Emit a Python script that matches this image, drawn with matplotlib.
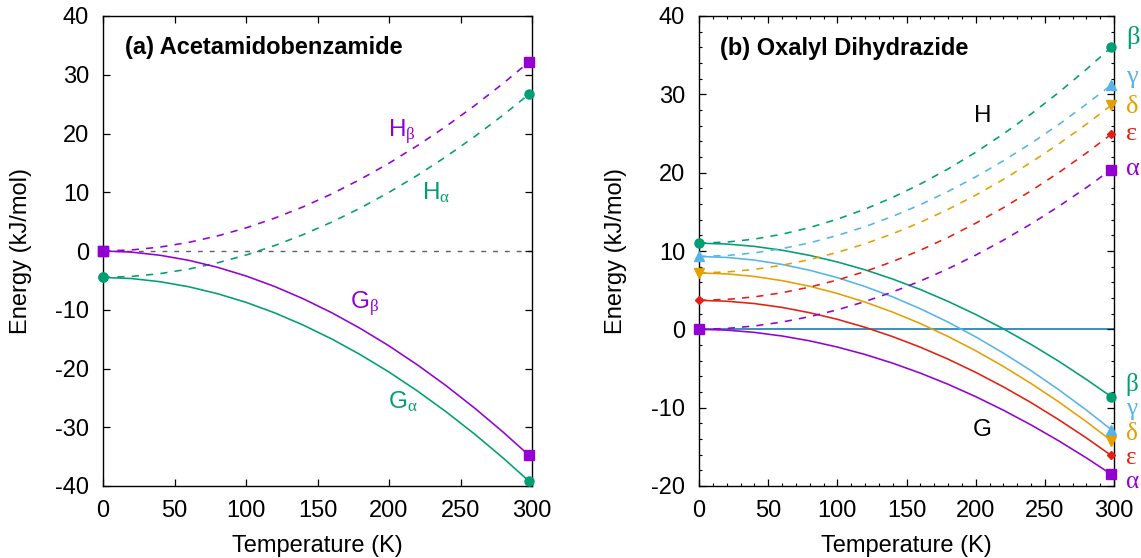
import matplotlib
matplotlib.use('Agg')
import matplotlib.pyplot as plt
from matplotlib.ticker import MultipleLocator

plt.rcParams['font.family'] = ['Liberation Sans', 'DejaVu Sans']
plt.rcParams['mathtext.fontset'] = 'custom'
plt.rcParams['mathtext.rm'] = 'Liberation Serif'
plt.rcParams['mathtext.it'] = 'Liberation Serif:italic'
plt.rcParams['mathtext.bf'] = 'Liberation Serif:bold'
plt.rcParams['axes.unicode_minus'] = False

# ---------------- data ----------------
temps = [0, 20, 40, 60, 80, 100, 120, 140, 160, 180, 200, 220, 240, 260, 280, 298]

# (a) Acetamidobenzamide
a_H_beta = [0.0, 0.18, 0.67, 1.47, 2.56, 3.93, 5.59, 7.52, 9.72, 12.20, 14.94, 17.96, 21.23, 24.77, 28.56, 32.2]
a_G_beta = [0.0, -0.19, -0.73, -1.59, -2.77, -4.25, -6.04, -8.13, -10.51, -13.19, -16.15, -19.41, -22.94, -26.76, -30.87, -34.8]
a_H_alpha = [-4.5, -4.33, -3.85, -3.07, -2.02, -0.69, 0.92, 2.79, 4.92, 7.32, 9.98, 12.90, 16.07, 19.50, 23.17, 26.7]
a_G_alpha = [-4.5, -4.69, -5.23, -6.09, -7.26, -8.74, -10.52, -12.61, -14.98, -17.65, -20.60, -23.85, -27.38, -31.19, -35.28, -39.2]

# (b) Oxalyl Dihydrazide
b_forms = ['β', 'γ', 'δ', 'ε', 'α']
b_H = {
    'β': [11.0, 11.14, 11.52, 12.14, 12.99, 14.06, 15.34, 16.84, 18.55, 20.47, 22.60, 24.94, 27.48, 30.23, 33.18, 36.0],
    'γ': [9.3, 9.42, 9.76, 10.30, 11.04, 11.98, 13.10, 14.42, 15.91, 17.60, 19.46, 21.51, 23.74, 26.14, 28.73, 31.2],
    'δ': [7.2, 7.32, 7.65, 8.18, 8.90, 9.82, 10.92, 12.20, 13.66, 15.31, 17.13, 19.13, 21.31, 23.66, 26.18, 28.6],
    'ε': [3.7, 3.82, 4.14, 4.67, 5.39, 6.29, 7.38, 8.65, 10.10, 11.73, 13.54, 15.52, 17.68, 20.00, 22.50, 24.9],
    'α': [0.0, 0.11, 0.43, 0.93, 1.62, 2.49, 3.54, 4.77, 6.16, 7.73, 9.47, 11.38, 13.45, 15.69, 18.09, 20.4],
}
b_G = {
    'β': [11.0, 10.89, 10.59, 10.10, 9.44, 8.60, 7.60, 6.42, 5.08, 3.57, 1.90, 0.07, -1.92, -4.07, -6.39, -8.6],
    'γ': [9.3, 9.18, 8.84, 8.29, 7.54, 6.60, 5.46, 4.14, 2.63, 0.93, -0.96, -3.03, -5.27, -7.70, -10.30, -12.8],
    'δ': [7.2, 7.08, 6.75, 6.22, 5.50, 4.58, 3.48, 2.20, 0.74, -0.91, -2.73, -4.73, -6.91, -9.26, -11.78, -14.2],
    'ε': [3.7, 3.59, 3.29, 2.80, 2.12, 1.28, 0.26, -0.93, -2.28, -3.80, -5.49, -7.34, -9.35, -11.53, -13.86, -16.1],
    'α': [0.0, -0.10, -0.39, -0.85, -1.47, -2.26, -3.21, -4.32, -5.59, -7.01, -8.59, -10.32, -12.20, -14.23, -16.41, -18.5],
}

# ---------------- style ----------------
PURPLE = '#9400d3'
GREEN = '#009e73'
SKY = '#56b4e9'
ORANGE = '#e69f00'
RED = '#e51e10'
BLUE = '#0072b2'

b_colors = {'β': GREEN, 'γ': SKY, 'δ': ORANGE, 'ε': RED, 'α': PURPLE}
b_markers = {'β': ('o', 6.5), 'γ': ('^', 6.5), 'δ': ('v', 6.5), 'ε': ('D', 4.5), 'α': ('s', 7)}
# label heights beside the right panel (layout)
b_label_H = {'β': 37.3, 'γ': 32.2, 'δ': 28.4, 'ε': 24.9, 'α': 20.5}
b_label_G = {'β': -7.1, 'γ': -10.2, 'δ': -13.3, 'ε': -16.4, 'α': -19.5}

LW = 1.15
DASH = (0, (4.5, 4.5))

fig = plt.figure(figsize=(11.41, 5.58), dpi=100)
ax1 = fig.add_axes([103 / 1141, 72 / 558, 429 / 1141, 470 / 558])
ax2 = fig.add_axes([699 / 1141, 72 / 558, 415 / 1141, 470 / 558])

FS = 17

def style_axes(ax, minor):
    for s in ax.spines.values():
        s.set_linewidth(1.0)
    ax.tick_params(which='major', direction='in', top=True, right=True,
                   length=5, width=0.9, labelsize=FS, pad=10)
    if minor:
        ax.tick_params(which='minor', direction='in', top=True, right=True,
                       length=2.5, width=0.8)
    ax.set_xlabel('Temperature (K)', fontsize=FS)
    ax.set_ylabel('Energy (kJ/mol)', fontsize=FS)

# ---------------- panel (a) ----------------
ax1.axhline(0, color='#606060', lw=1.0, ls=(0, (3.5, 5)), zorder=1)
ax1.plot(temps, a_H_beta, color=PURPLE, lw=LW, ls=DASH)
ax1.plot(temps, a_H_alpha, color=GREEN, lw=LW, ls=DASH)
ax1.plot(temps, a_G_beta, color=PURPLE, lw=LW)
ax1.plot(temps, a_G_alpha, color=GREEN, lw=LW)
for series, col, mk, ms in [(a_H_beta, PURPLE, 's', 7), (a_G_beta, PURPLE, 's', 7),
                            (a_H_alpha, GREEN, 'o', 6.5), (a_G_alpha, GREEN, 'o', 6.5)]:
    ax1.plot([temps[0], temps[-1]], [series[0], series[-1]], ls='none', marker=mk,
             ms=ms, color=col, clip_on=False, zorder=5)

ax1.set_xlim(0, 300)
ax1.set_ylim(-40, 40)
ax1.xaxis.set_major_locator(MultipleLocator(50))
ax1.yaxis.set_major_locator(MultipleLocator(10))
style_axes(ax1, minor=False)
ax1.text(0.051, 0.932, '(a) Acetamidobenzamide', transform=ax1.transAxes,
         fontsize=FS, fontweight='bold', va='center', ha='left')
LBL = 17.5
ax1.text(199, 20.4, r'H$_{\mathrm{β}}$', color=PURPLE, fontsize=LBL, va='center')
ax1.text(223, 9.9, r'H$_{\mathrm{α}}$', color=GREEN, fontsize=LBL, va='center')
ax1.text(173, -8.9, r'G$_{\mathrm{β}}$', color=PURPLE, fontsize=LBL, va='center')
ax1.text(199, -25.7, r'G$_{\mathrm{α}}$', color=GREEN, fontsize=LBL, va='center')
ax1.xaxis.set_label_coords(0.5, -0.105)
ax1.yaxis.set_label_coords(-0.1655, 0.5)

# ---------------- panel (b) ----------------
ax2.axhline(0, color=BLUE, lw=1.1, zorder=1)
for f in b_forms:
    c = b_colors[f]
    mk, ms = b_markers[f]
    ax2.plot(temps, b_H[f], color=c, lw=LW, ls=DASH)
    ax2.plot(temps, b_G[f], color=c, lw=LW)
    ax2.plot([temps[0], temps[-1], temps[-1]], [b_G[f][0], b_G[f][-1], b_H[f][-1]],
             ls='none', marker=mk, ms=ms, color=c, clip_on=False, zorder=5)
    ax2.text(308.5, b_label_H[f], f, color=c, fontsize=19, va='center', ha='left',
             family='Liberation Serif', clip_on=False)
    ax2.text(308.5, b_label_G[f], f, color=c, fontsize=18, va='center', ha='left',
             family='Liberation Serif', clip_on=False)

ax2.set_xlim(0, 300)
ax2.set_ylim(-20, 40)
ax2.xaxis.set_major_locator(MultipleLocator(50))
ax2.xaxis.set_minor_locator(MultipleLocator(10))
ax2.yaxis.set_major_locator(MultipleLocator(10))
ax2.yaxis.set_minor_locator(MultipleLocator(2))
style_axes(ax2, minor=True)
ax2.text(0.051, 0.93, '(b) Oxalyl Dihydrazide', transform=ax2.transAxes,
         fontsize=FS, fontweight='bold', va='center', ha='left')
ax2.text(205, 27.2, 'H', fontsize=LBL, va='center', ha='center')
ax2.text(205, -12.9, 'G', fontsize=LBL, va='center', ha='center')
ax2.xaxis.set_label_coords(0.5, -0.105)
ax2.yaxis.set_label_coords(-0.1735, 0.5)

fig.savefig('out.png', dpi=100)
